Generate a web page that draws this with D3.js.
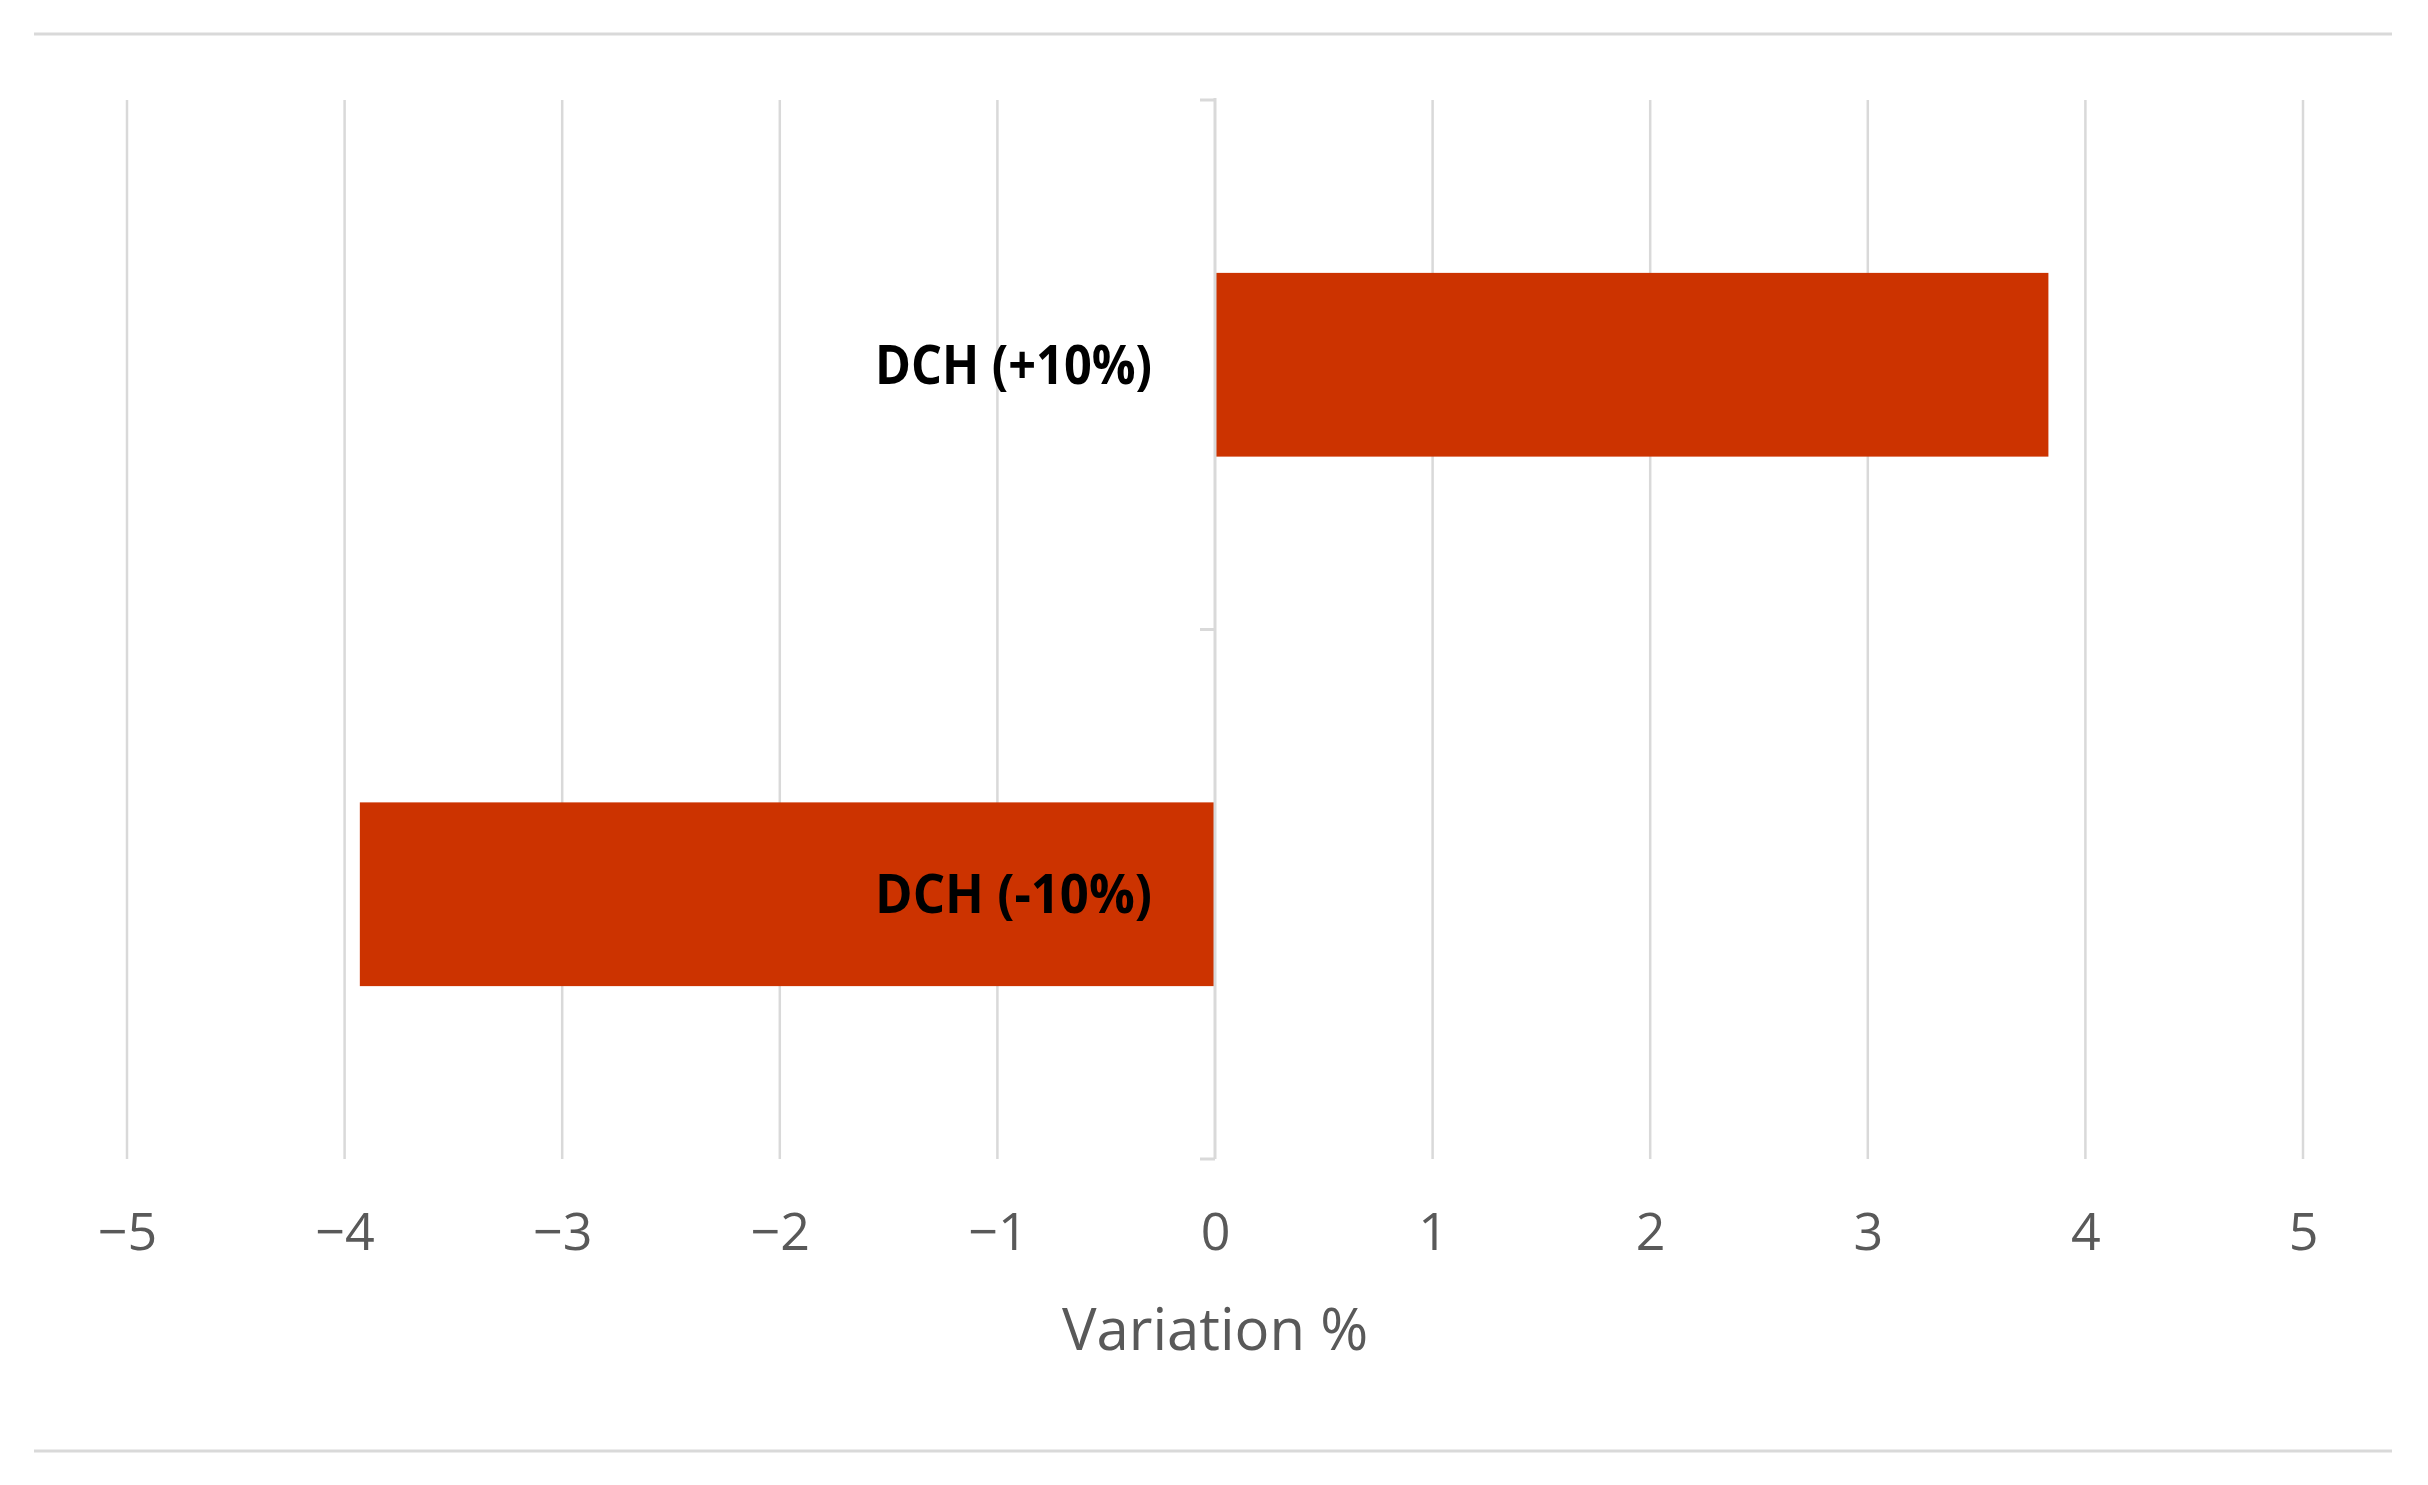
<!DOCTYPE html>
<html>
<head>
<meta charset="utf-8">
<script src="https://cdn.jsdelivr.net/npm/d3@7"></script>
<style>
  html, body { margin: 0; padding: 0; background: #ffffff; }
  svg { display: block; }
</style>
</head>
<body>
<div id="chart"></div>
<script>
// ---- data ----
const categories = ["DCH (+10%)", "DCH (-10%)"];
const values = [3.83, -3.93];
const xTicks = [-5, -4, -3, -2, -1, 0, 1, 2, 3, 4, 5];
const xTickLabels = ["\u22125", "\u22124", "\u22123", "\u22122", "\u22121", "0", "1", "2", "3", "4", "5"];
const xAxisTitle = "Variation %";

// ---- layout ----
const W = 2428, H = 1485;
const plot = { left: 127, right: 2303, top: 100, bottom: 1159 };
const gridColor = "#d9d9d9";
const textColor = "#595959";
const barColor = "#cc3300";

const svg = d3.select("#chart").append("svg")
  .attr("width", W).attr("height", H)
  .style("font-family", "'Open Sans', sans-serif");

const x = d3.scaleLinear().domain([-5, 5]).range([plot.left, plot.right]);
const y = d3.scaleBand().domain(categories)
  .range([plot.top, plot.bottom])
  .paddingInner(0.653).paddingOuter(0.3265);

// outer border lines
svg.append("line").attr("x1", 34).attr("x2", 2392).attr("y1", 34).attr("y2", 34)
  .attr("stroke", gridColor).attr("stroke-width", 3);
svg.append("line").attr("x1", 34).attr("x2", 2392).attr("y1", 1451).attr("y2", 1451)
  .attr("stroke", gridColor).attr("stroke-width", 3);

// vertical gridlines (except zero, drawn as axis)
svg.append("g").selectAll("line")
  .data(xTicks.filter(d => d !== 0))
  .join("line")
  .attr("x1", d => x(d)).attr("x2", d => x(d))
  .attr("y1", plot.top).attr("y2", plot.bottom)
  .attr("stroke", gridColor).attr("stroke-width", 2.5);

// x tick labels via d3 axis
const xAxis = d3.axisBottom(x).tickValues(xTicks)
  .tickFormat((d, i) => xTickLabels[i]).tickSize(0).tickPadding(0);
const gx = svg.append("g").attr("transform", `translate(0, 1250)`).call(xAxis);
gx.select(".domain").remove();
gx.selectAll("text")
  .attr("dy", null).attr("y", 0)
  .attr("fill", textColor)
  .style("font-size", "52px")
  .style("font-family", "'Open Sans', sans-serif");

// x axis title
svg.append("text")
  .attr("x", (plot.left + plot.right) / 2).attr("y", 1350)
  .attr("text-anchor", "middle")
  .attr("fill", textColor)
  .style("font-size", "58px")
  .text(xAxisTitle);

// bars
svg.append("g").selectAll("rect")
  .data(categories.map((c, i) => ({ c, v: values[i] })))
  .join("rect")
  .attr("x", d => Math.min(x(0), x(d.v)))
  .attr("width", d => Math.abs(x(d.v) - x(0)))
  .attr("y", d => y(d.c))
  .attr("height", y.bandwidth())
  .attr("fill", barColor);

// zero axis (vertical category axis) with ticks on left
const x0 = x(0);
svg.append("line").attr("x1", x0).attr("x2", x0)
  .attr("y1", plot.top - 2).attr("y2", plot.bottom)
  .attr("stroke", gridColor).attr("stroke-width", 3);
const boundaries = [plot.top].concat(categories.map(c => y(c) + y.bandwidth() / 2 + y.step() / 2));
svg.append("g").selectAll("line")
  .data(boundaries)
  .join("line")
  .attr("x1", x0 - 15).attr("x2", x0)
  .attr("y1", d => d).attr("y2", d => d)
  .attr("stroke", gridColor).attr("stroke-width", 3);

// category labels
const labels = svg.append("g").selectAll("text")
  .data(categories)
  .join("text")
  .attr("x", x0 - 63)
  .attr("y", d => y(d) + y.bandwidth() / 2 + 19)
  .attr("text-anchor", "end")
  .attr("fill", "#000000")
  .style("font-weight", "bold")
  .style("font-size", "53px")
  .text(d => d);
labels.each(function () {
  const len = this.getComputedTextLength();
  if (len > 277) {
    d3.select(this).attr("textLength", 277).attr("lengthAdjust", "spacingAndGlyphs");
  }
});
</script>
</body>
</html>
